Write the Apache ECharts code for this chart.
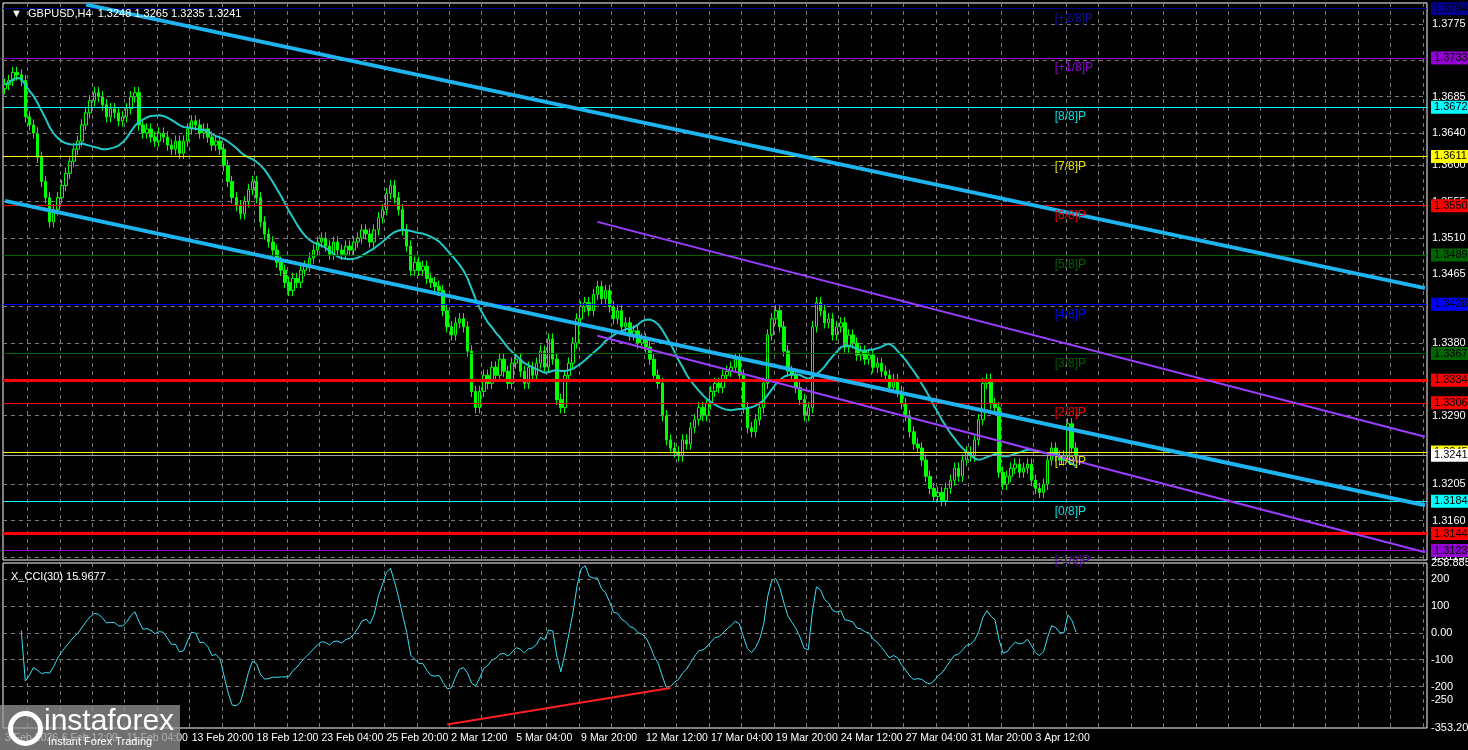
<!DOCTYPE html>
<html><head><meta charset="utf-8">
<script src="https://cdn.jsdelivr.net/npm/echarts@6/dist/echarts.min.js"></script>
<style>html,body{margin:0;padding:0;background:#000}#c{width:1468px;height:750px}</style>
</head><body><div id="c"></div>
<script>
// closes in pips above 1.0000 (e.g. 3700 = 1.3700)
const closesPips = [3700,3705,3715,3712,3705,3660,3650,3640,3610,3580,3560,3530,3545,3560,3575,3590,3605,3620,3630,3650,
3665,3680,3690,3685,3675,3660,3670,3665,3655,3660,3670,3685,3690,3650,3640,3645,3635,3630,3640,3635,
3625,3620,3630,3615,3630,3645,3655,3650,3640,3645,3635,3625,3630,3620,3600,3580,3560,3550,3540,3555,
3570,3580,3560,3530,3515,3505,3495,3480,3470,3455,3445,3460,3455,3470,3475,3485,3495,3505,3510,3500,
3490,3505,3495,3490,3500,3495,3505,3510,3520,3515,3505,3520,3535,3545,3565,3575,3560,3545,3520,3500,
3470,3480,3470,3475,3460,3455,3450,3445,3420,3400,3390,3405,3410,3400,3370,3320,3300,3320,3340,3330,
3350,3340,3360,3345,3330,3355,3360,3345,3330,3350,3340,3355,3370,3350,3385,3360,3310,3300,3340,3355,
3380,3410,3425,3430,3420,3440,3450,3435,3445,3425,3410,3420,3400,3405,3390,3395,3380,3385,3375,3360,
3340,3330,3290,3260,3250,3245,3240,3260,3255,3275,3285,3300,3290,3305,3320,3330,3325,3340,3345,3350,
3360,3340,3300,3275,3270,3285,3300,3330,3390,3410,3420,3400,3370,3345,3340,3325,3310,3290,3300,3400,
3430,3420,3405,3410,3390,3400,3405,3375,3390,3380,3365,3370,3360,3365,3350,3355,3345,3340,3325,3335,
3320,3305,3290,3270,3255,3250,3235,3215,3200,3190,3195,3185,3200,3210,3225,3215,3235,3245,3240,3260,
3285,3330,3335,3305,3300,3220,3205,3215,3225,3230,3220,3225,3230,3210,3200,3195,3205,3235,3250,3240,
3235,3240,3280,3250,3241];
const firstOpen = 3695;
const totalSlots = 351;
const tickIdx = [0,14,30,46,62,78,94,110,126,142,158,174,190,206,222,238,254];
const tickLabels = ['3 Feb 2026','6 Feb 12:00','11 Feb 04:00','13 Feb 20:00','18 Feb 12:00','23 Feb 04:00','25 Feb 20:00','2 Mar 12:00','5 Mar 04:00','9 Mar 20:00','12 Mar 12:00','17 Mar 04:00','19 Mar 20:00','24 Mar 12:00','27 Mar 04:00','31 Mar 20:00','3 Apr 12:00'];
const priceTicks = [1.3775,1.3730,1.3685,1.3640,1.3600,1.3555,1.3510,1.3465,1.3425,1.3380,1.3335,1.3290,1.3245,1.3205,1.3160,1.3115];
const cciTicks = [258.8859,200,100,0,-100,-200,-250,-353.207];
const cciGrid = [200,100,0,-100,-200];
const murrayLevels = [1.3794,1.3733,1.3672,1.3611,1.3550,1.3489,1.3428,1.3367,1.3306,1.3245,1.3184,1.3123];
const murrayNames = ['[+2/8]P','[+1/8]P','[8/8]P','[7/8]P','[6/8]P','[5/8]P','[4/8]P','[3/8]P','[2/8]P','[1/8]P','[0/8]P','[-1/8]P'];
const strongLevels = [1.3334,1.3144];
const lastPrice = 1.3241;
// trend channel lines: [startIdx, startPrice, endIdx, endPrice]
const blueLines = [[20,1.3799,350,1.3448],[0,1.3556,350,1.3179],[0,1.3286,162,1.3111]];
const purpleLines = [[146,1.3530,350,1.3264],[146,1.3389,350,1.3121],[146,1.3248,250,1.3111]];
const cciTrend = [[109,-340],[164,-205]];

const murrayColors = ['#00008b','#9400d3','#00ffff','#ffff00','#ff0000','#006400','#0000ff','#006400','#ff0000','#ffff00','#00ffff','#9400d3'];
const murrayTextColors = ['#1010a0','#9400d3','#00e0e0','#e0e000','#ff0000','#006400','#0000ff','#006400','#ff0000','#e0e000','#00e0e0','#5a00a0'];

const closes = closesPips.map(v => 1 + v/10000);
const ohlc = closes.map((c,i) => {
  const o = i===0 ? 1+firstOpen/10000 : closes[i-1];
  return [o, c, Math.min(o,c)-0.0007, Math.max(o,c)+0.0007];
});
const cats = Array.from({length: totalSlots}, (_,i)=>String(i));
const ma = closes.map((c,i)=>{const s=Math.max(0,i-19);let t=0;for(let k=s;k<=i;k++)t+=closes[k];return +(t/(i-s+1)).toFixed(5);});
const tp = ohlc.map(d=>(d[1]+d[2]+d[3])/3);
const cci = tp.map((v,i)=>{const s=Math.max(0,i-29);const n=i-s+1;if(n<5)return null;let m=0;for(let k=s;k<=i;k++)m+=tp[k];m/=n;let md=0;for(let k=s;k<=i;k++)md+=Math.abs(tp[k]-m);md/=n;return md?+((v-m)/(0.015*md)).toFixed(2):0;});

const F = 'Liberation Sans';
const lbl = (bg, fg) => ({show:true, position:'end', distance:4, formatter: p=>(+p.value).toFixed(4), backgroundColor:bg, color:fg, padding:[1,3], fontFamily:F, fontSize:11});
const murrayLines = murrayLevels.map((v,i)=>({yAxis:v, lineStyle:{color:murrayColors[i], width:1, type:'solid'}, label:lbl(murrayColors[i],'#000')}));
const strong = strongLevels.map(v=>({yAxis:v, lineStyle:{color:'#ff0000', width:3, type:'solid'}, label:lbl('#ff0000','#000')}));
const lastLine = {yAxis:lastPrice, lineStyle:{color:'#a0a0a0', width:1, type:'solid'}, label:lbl('#ffffff','#000')};
const seg = (l,color,w)=>[{coord:[l[0],l[1]], lineStyle:{color, width:w, type:'solid'}},{coord:[l[2],l[3]]}];
const cciFmt = v => v===0?'0.00':String(v);

const chart = echarts.init(document.getElementById('c'));
chart.setOption({
  backgroundColor:'#000',
  animation:false,
  title:[
    {text:'▼  GBPUSD,H4  1.3248 1.3265 1.3235 1.3241', left:6, top:3, textStyle:{color:'#fff', fontSize:11, fontWeight:'normal', fontFamily:F}},
    {text:'X_CCI(30) 15.9677', left:6, top:566, textStyle:{color:'#fff', fontSize:11, fontWeight:'normal', fontFamily:F}}
  ],
  grid:[
    {left:3, right:41, top:3, height:557, show:true, borderColor:'#fff', borderWidth:1, outerBoundsMode:'none', containLabel:false},
    {left:3, right:41, top:563, height:165, show:true, borderColor:'#fff', borderWidth:1, outerBoundsMode:'none', containLabel:false}
  ],
  xAxis:[
    {type:'category', data:cats, gridIndex:0, boundaryGap:true, axisLine:{show:false}, axisTick:{show:false}, axisLabel:{show:false},
     splitLine:{show:true, interval:(i)=>i%8===6, lineStyle:{color:'#7a7a7a', type:[4,4]}}},
    {type:'category', data:cats, gridIndex:1, boundaryGap:true, axisLine:{show:false}, axisTick:{show:false},
     axisLabel:{show:true, hideOverlap:false, interval:(i)=>tickIdx.includes(i), formatter:(v)=>{const k=tickIdx.indexOf(+v);return k>=0?tickLabels[k]:'';}, align:'left', color:'#fff', fontFamily:F, fontSize:10.5, margin:5},
     splitLine:{show:true, interval:(i)=>i%8===6, lineStyle:{color:'#7a7a7a', type:[4,4]}}}
  ],
  yAxis:[
    {type:'value', gridIndex:0, position:'right', min:1.31113, max:1.3801, splitLine:{show:false}, axisLine:{show:false}, axisTick:{show:false},
     axisLabel:{show:true, customValues:priceTicks, formatter:v=>v.toFixed(4), color:'#fff', fontFamily:F, fontSize:11, margin:5}},
    {type:'value', gridIndex:1, position:'right', min:-353.207, max:258.8859, splitLine:{show:false}, axisLine:{show:false}, axisTick:{show:false},
     axisLabel:{show:true, customValues:cciTicks, formatter:cciFmt, color:'#fff', fontFamily:F, fontSize:11, margin:4}}
  ],
  series:[
    {type:'line', xAxisIndex:0, yAxisIndex:0, data:[], silent:true,
     markLine:{silent:true, precision:5, symbol:'none', animation:false, label:{show:false}, lineStyle:{color:'#7a7a7a', type:[4,4], width:1},
       data:priceTicks.map(v=>({yAxis:v}))}},
    {type:'line', xAxisIndex:1, yAxisIndex:1, data:[], silent:true,
     markLine:{silent:true, precision:5, symbol:'none', animation:false, label:{show:false}, lineStyle:{color:'#7a7a7a', type:[4,4], width:1},
       data:cciGrid.map(v=>({yAxis:v}))}},
    {type:'candlestick', name:'GBPUSD', xAxisIndex:0, yAxisIndex:0, data:ohlc, barWidth:3,
     itemStyle:{color:'#000', color0:'#00ff00', borderColor:'#00ff00', borderColor0:'#00ff00', borderWidth:1},
     markLine:{silent:true, precision:5, symbol:'none', animation:false,
       data:[...murrayLines, ...strong, lastLine,
             ...blueLines.map(l=>seg(l,'#1eb4f0',4)), ...purpleLines.map(l=>seg(l,'#9b3dff',2))]},
     markPoint:{silent:true, precision:5, symbol:'rect', symbolSize:0, animation:false,
       data:murrayLevels.map((v,i)=>({coord:[258,v], label:{show:true, formatter:murrayNames[i], position:'right', offset:[-2,10], color:murrayTextColors[i], fontFamily:F, fontSize:12}}))}},
    {type:'line', name:'MA', xAxisIndex:0, yAxisIndex:0, data:ma, showSymbol:false, lineStyle:{color:'#20c8c8', width:2}},
    {type:'line', name:'CCI', xAxisIndex:1, yAxisIndex:1, data:cci, showSymbol:false, lineStyle:{color:'#38e0f8', width:1},
     markLine:{silent:true, symbol:'none', label:{show:false}, animation:false, data:[[{coord:cciTrend[0], lineStyle:{color:'#ff2020', width:2, type:'solid'}},{coord:cciTrend[1]}]]}}
  ],
  graphic:[
    {type:'rect', left:0, top:705, shape:{width:180, height:45}, style:{fill:'rgba(150,150,150,0.75)'}, z:100},
    {type:'text', left:44, top:707, style:{text:'instaforex', fill:'#fff', font:'30px "Liberation Sans"'}, z:101},
    {type:'text', left:48, top:736, style:{text:'Instant Forex Trading', fill:'#fff', font:'11px "Liberation Sans"'}, z:101},
    {type:'circle', left:8, top:711, shape:{r:15}, style:{fill:'none', stroke:'#fff', lineWidth:5}, z:101}
  ]
});
</script></body></html>
